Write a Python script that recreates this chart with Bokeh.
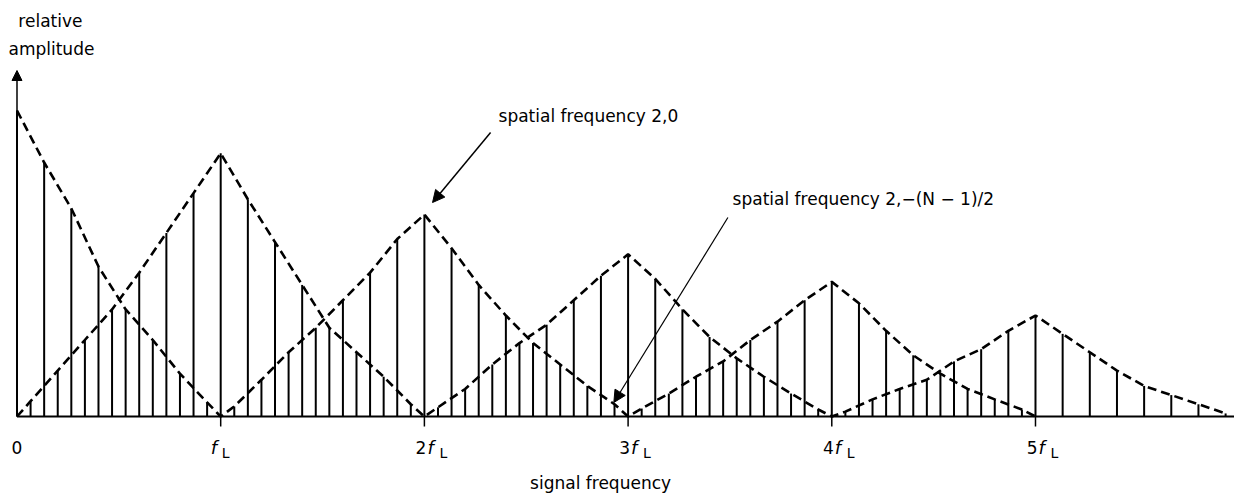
from bokeh.plotting import figure
from bokeh.models import Arrow, NormalHead, ColumnDataSource, Range1d
from bokeh.core.properties import value
from bokeh.embed import file_html
from bokeh.resources import INLINE

# ---------------- data ----------------
SAMPLES_PER_FL = 15          # stems per f_L interval
# family A: peaks at 0, 2fL, 4fL ; zero at fL, 3fL, 5fL  (even sample index)
A_INDEX = list(range(0, 75, 2))
A_VALUES = [100, 83, 68, 49, 35, 25, 14, 4.6,
            3.3, 12, 21, 29, 38, 47, 58, 66,
            55, 43, 33, 24, 17, 10, 4, 2.6,
            7.5, 13, 18, 25, 31, 38, 44,
            37, 28, 20, 14, 9, 5.6, 2.3]
A_ZERO_AT = [1, 3, 5]
# family B: zero at 0, 2fL, 4fL ; peaks at fL, 3fL, 5fL  (odd sample index)
B_INDEX = list(range(1, 90, 2))
B_VALUES = [5, 15, 25, 35, 47, 60, 73, 86,
            71, 57, 43, 29, 21, 13, 4,
            3, 9, 17, 24, 30, 38, 46, 53,
            45, 35, 26, 19, 13, 7.5, 2.3,
            1.6, 5.6, 9, 12, 18, 22, 28, 33,
            27, 21, 15, 10, 7, 4, 1]
B_ZERO_AT = [0, 2, 4]

TICKS = [1, 2, 3, 4, 5]
TICK_MULT = ["", "2", "3", "4", "5"]

# ---------------- geometry ----------------
W, H = 1234, 496
X0, X1 = -0.081, 5.977
Y0, Y1 = -26.14, 135.95
YPX = (Y1 - Y0) / H          # data units per pixel (vertical)

FONT = "DejaVu Sans"

p = figure(width=W, height=H, x_range=Range1d(X0, X1), y_range=Range1d(Y0, Y1),
           output_backend="svg", toolbar_location=None,
           x_axis_location=None, y_axis_location=None, min_border=0)
p.grid.visible = False
p.outline_line_color = None
p.background_fill_color = "white"
p.border_fill_color = "white"

ax = [i / SAMPLES_PER_FL for i in A_INDEX]
bx = [i / SAMPLES_PER_FL for i in B_INDEX]

# stems
p.segment(x0=ax, y0=[0] * len(ax), x1=ax, y1=A_VALUES, line_color="black", line_width=2)
p.segment(x0=bx, y0=[0] * len(bx), x1=bx, y1=B_VALUES, line_color="black", line_width=2)

# dashed envelopes through stem tops
a_pts = sorted(list(zip(ax, A_VALUES)) + [(z, 0) for z in A_ZERO_AT])
b_pts = sorted(list(zip(bx, B_VALUES)) + [(z, 0) for z in B_ZERO_AT])
p.line([q[0] for q in a_pts], [q[1] for q in a_pts], line_color="black",
       line_width=2.6, line_dash="9 5")
p.line([q[0] for q in b_pts], [q[1] for q in b_pts], line_color="black",
       line_width=2.6, line_dash="9 5")

# x axis baseline + ticks
p.segment(x0=[0], y0=[0], x1=[X1], y1=[0], line_color="black", line_width=2)
p.segment(x0=TICKS, y0=[0] * len(TICKS), x1=TICKS, y1=[-10 * YPX] * len(TICKS),
          line_color="black", line_width=1.5)

# y axis with arrow
p.add_layout(Arrow(x_start=0, y_start=0, x_end=0, y_end=346 * YPX,
                   line_color="black", line_width=1.5,
                   end=NormalHead(size=10, fill_color="black", line_color="black")))

# tick labels
LBL_Y = -31 * YPX
SUB_Y = -36 * YPX
p.text(x=[0], y=[LBL_Y], text=["0"], text_align="center", text_baseline="alphabetic",
       text_font=value(FONT), text_font_size="17px", text_color="black")
num_x = [t for t, m in zip(TICKS, TICK_MULT) if m]
num_t = [m for m in TICK_MULT if m]
p.text(x=num_x, y=[LBL_Y] * len(num_x), text=num_t, text_align="right",
       text_baseline="alphabetic", x_offset=2,
       text_font=value(FONT), text_font_size="17px", text_color="black")
f_off = [-10 if not m else 3 for m in TICK_MULT]
l_off = [1 if not m else 15 for m in TICK_MULT]
src_f = ColumnDataSource(dict(x=TICKS, y=[LBL_Y] * len(TICKS), t=["f"] * len(TICKS), o=f_off))
src_l = ColumnDataSource(dict(x=TICKS, y=[SUB_Y] * len(TICKS), t=["L"] * len(TICKS), o=l_off))
p.text(x="x", y="y", text="t", x_offset="o", source=src_f, text_align="left",
       text_baseline="alphabetic", text_font=value(FONT), text_font_size="18px",
       text_font_style="italic", text_color="black")
p.text(x="x", y="y", text="t", x_offset="o", source=src_l, text_align="left",
       text_baseline="alphabetic", text_font=value(FONT), text_font_size="14px",
       text_color="black")

# axis titles
p.text(x=[2.865], y=[-66 * YPX], text=["signal frequency"], text_align="center",
       text_baseline="alphabetic", text_font=value(FONT), text_font_size="17px",
       text_color="black")
p.text(x=[0.164, 0.169], y=[396 * YPX, 368 * YPX], text=["relative", "amplitude"],
       text_align="center", text_baseline="alphabetic", text_font=value(FONT),
       text_font_size="17px", text_color="black")

# annotations
p.text(x=[2.364], y=[301 * YPX], text=["spatial frequency 2,0"], text_align="left",
       text_baseline="alphabetic", text_font=value(FONT), text_font_size="17px",
       text_color="black")
p.add_layout(Arrow(x_start=2.325, y_start=284 * YPX, x_end=2.04, y_end=214 * YPX,
                   line_color="black", line_width=1.5,
                   end=NormalHead(size=12, fill_color="black", line_color="black")))
p.text(x=[3.513], y=[218 * YPX], text=["spatial frequency 2,\u2212(N \u2212 1)/2"],
       text_align="left", text_baseline="alphabetic", text_font=value(FONT),
       text_font_size="17px", text_color="black")
p.add_layout(Arrow(x_start=3.49, y_start=199 * YPX, x_end=2.93, y_end=14 * YPX,
                   line_color="black", line_width=1.2,
                   end=NormalHead(size=12, fill_color="black", line_color="black")))

open("out.html", "w").write(file_html(p, INLINE))
